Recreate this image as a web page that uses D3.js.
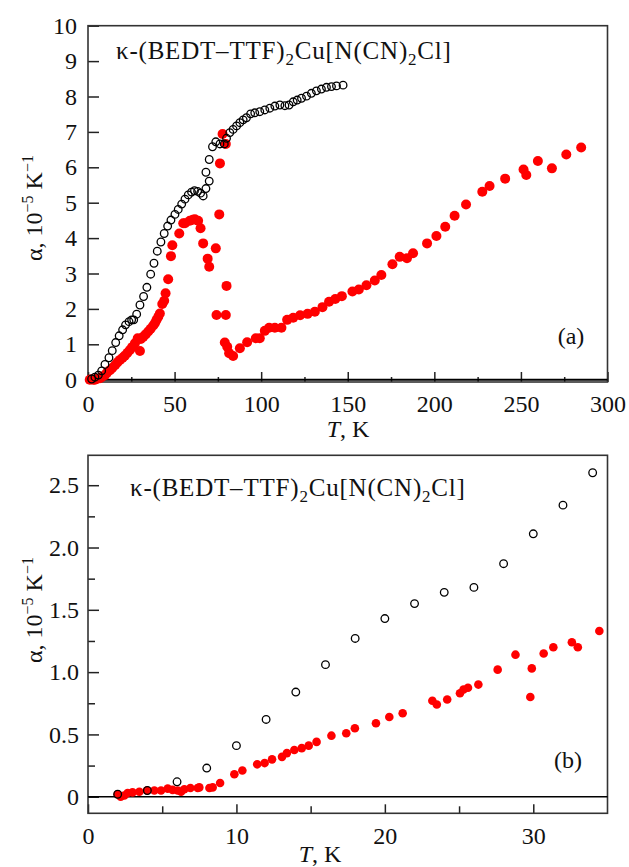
<!DOCTYPE html>
<html>
<head>
<meta charset="utf-8">
<script src="https://cdn.jsdelivr.net/npm/d3@7"></script>
<style>
  body { margin: 0; background: #fff; }
  text { font-family: "Liberation Serif", "Times New Roman", serif; fill: #111; }
</style>
</head>
<body>
<svg id="chart" width="629" height="867"></svg>
<script>
// panel (a): T in K, alpha in 10^-5 K^-1
var openA = [[2.1,0.02],[4,0.07],[6,0.13],[7.9,0.25],[9.8,0.43],[12.1,0.62],[14,0.82],[16,1.05],
  [18,1.24],[20,1.41],[21.7,1.55],[23.7,1.64],[25.2,1.69],[26.4,1.69],[28.1,1.85],[30,2.11],
  [32.1,2.35],[34,2.61],[36.2,2.98],[38.1,3.29],[40,3.63],[42.1,3.89],[44,4.13],[46,4.34],
  [47.9,4.51],[50.2,4.67],[52.1,4.81],[54.1,4.96],[56,5.10],[57.9,5.22],[59.8,5.30],[61.5,5.34],
  [63.3,5.32],[65,5.27],[66.5,5.19],[68.1,5.40],[70,5.61],[68.1,5.86],[70,6.22],[71.9,6.58],
  [73.8,6.72],[76.2,6.66],[78.7,6.66],[80,6.82],[81.9,6.98],[83.8,7.07],[85.8,7.17],[87.7,7.26],
  [89.6,7.34],[91.5,7.40],[93.9,7.51],[96.3,7.54],[99.2,7.57],[102.1,7.62],[105,7.67],[107.9,7.73],
  [110.8,7.76],[113.7,7.74],[116.1,7.76],[118.5,7.85],[120.8,7.90],[123.3,7.95],[126.2,8.01],
  [129,8.09],[131.9,8.16],[134.8,8.21],[137.7,8.26],[140.6,8.28],[143.5,8.30],[147.3,8.32]];

var filledA = [[1,0.0],[2,0.01],[3,0.0],[4,0.0],[5,0.02],[6.9,0.04],[8,0.08],[9.8,0.13],[11,0.2],
  [12.7,0.27],[14,0.33],[15.6,0.41],[17,0.49],[18.5,0.56],[20,0.62],[21.3,0.68],[22.8,0.76],
  [24.2,0.84],[25.5,0.92],[27.1,1.03],[28.7,1.17],[30,0.81],[30.5,1.15],[31.9,1.21],[33.3,1.28],
  [34.8,1.36],[36.2,1.44],[37.7,1.53],[38.7,1.6],[39.6,1.69],[40.6,1.78],[41.5,1.87],[42.9,2.14],
  [44,2.23],[44.8,2.44],[46.3,2.84],[47.9,3.49],[48.7,3.80],[52.7,4.13],[55,4.42],[56,4.42],
  [58.8,4.49],[60.5,4.52],[61.7,4.53],[63.6,4.49],[65,4.28],[66.5,3.85],[69.1,3.42],[70,3.19],
  [73.8,3.71],[75.8,4.67],[76.2,6.11],[77.7,6.94],[79.6,6.66],[80,2.65],[74.2,1.83],[79.6,1.83],
  [79,1.05],[80.4,0.93],[81.5,0.75],[83.8,0.67],[87.7,0.89],[91.9,1.06],[96.9,1.17],[99.2,1.17],
  [102.1,1.38],[104.6,1.47],[107.9,1.47],[111.7,1.47],[115,1.69],[118.5,1.75],[122.5,1.82],
  [126.8,1.86],[131,1.92],[135.4,2.05],[139.2,2.20],[142.8,2.28],[146.6,2.36],[152.7,2.49],
  [156.4,2.55],[160.8,2.67],[165.6,2.80],[169.4,2.96],[175.8,3.26],[180,3.47],[184.2,3.43],
  [187.7,3.57],[195.8,3.85],[201.2,4.06],[206.3,4.32],[211.7,4.63],[218.3,4.95],[227.7,5.31],
  [231.9,5.47],[240.9,5.68],[251.5,5.94],[253.1,5.78],[259.8,6.18],[267.9,5.97],[276.2,6.36],
  [284.8,6.56]];

// panel (b): low temperature part
var openB = [[2,0.02],[4,0.05],[6,0.12],[8,0.23],[10,0.41],[12,0.62],[14,0.84],[16,1.06],[18,1.27],
  [20,1.43],[22,1.55],[24,1.64],[26,1.68],[28,1.87],[30,2.11],[32,2.34],[34,2.60]];

var filledB = [[2,0.02],[2.2,0.0],[2.45,0.01],[2.67,0.03],[3.0,0.035],[3.46,0.04],[3.97,0.05],
  [4.47,0.05],[4.92,0.05],[5.37,0.065],[5.7,0.055],[6.04,0.05],[6.27,0.04],[6.49,0.06],[6.9,0.07],
  [7.39,0.07],[7.5,0.075],[8.18,0.07],[8.4,0.075],[8.9,0.11],[9.86,0.18],[10.4,0.21],[11.4,0.26],
  [11.9,0.27],[12.4,0.30],[13.07,0.32],[13.4,0.35],[13.9,0.375],[14.4,0.39],[14.87,0.41],
  [15.4,0.44],[16.4,0.49],[17.4,0.51],[17.98,0.55],[19.4,0.59],[20.3,0.64],[21.2,0.67],[23.2,0.77],
  [23.5,0.74],[24.2,0.78],[25.06,0.83],[25.3,0.86],[25.6,0.875],[26.3,0.90],[27.6,1.02],
  [28.8,1.14],[29.9,1.03],[29.8,0.80],[30.7,1.15],[31.35,1.20],[32.6,1.24],[33,1.20],[34.45,1.33]];

var ticksAx = [0,50,100,150,200,250,300];
var ticksAy = [0,1,2,3,4,5,6,7,8,9,10];
var ticksBx = [0,10,20,30];
var ticksBy = [0,0.5,1.0,1.5,2.0,2.5];

var svg = d3.select("#chart");
var left = 88, right = 607.5;

function drawPanel(opts) {
  var x = d3.scaleLinear().domain(opts.xDomain).range([left, right]);
  var y = d3.scaleLinear().domain(opts.yDomain).range([opts.bottom, opts.top]);
  var g = svg.append("g");

  // minor ticks
  g.append("g")
    .attr("transform", "translate(0," + opts.bottom + ")")
    .call(d3.axisBottom(x).tickValues(opts.xMinor).tickSizeInner(-opts.xMinorLen).tickSizeOuter(0).tickFormat(""));
  if (opts.yMinor) {
    g.append("g")
      .attr("transform", "translate(" + left + ",0)")
      .call(d3.axisLeft(y).tickValues(opts.yMinor).tickSizeInner(-7).tickSizeOuter(0).tickFormat(""));
  }
  // major ticks + labels
  g.append("g")
    .attr("transform", "translate(0," + opts.bottom + ")")
    .call(d3.axisBottom(x).tickValues(opts.xTicks).tickSizeInner(-opts.xMajorLen).tickSizeOuter(0)
      .tickPadding(opts.xPad).tickFormat(d3.format("d")));
  g.append("g")
    .attr("transform", "translate(" + left + ",0)")
    .call(d3.axisLeft(y).tickValues(opts.yTicks).tickSizeInner(-11).tickSizeOuter(0)
      .tickPadding(opts.yPad).tickFormat(opts.yFormat));

  g.selectAll(".domain").remove();
  g.selectAll(".tick line").attr("stroke", "#222").attr("stroke-width", 1.5);
  g.selectAll(".tick text").style("font-size", "24px").attr("fill", "#111");

  // frame
  g.append("rect")
    .attr("x", left).attr("y", opts.top)
    .attr("width", right - left).attr("height", opts.bottom - opts.top)
    .attr("fill", "none").attr("stroke", "#333").attr("stroke-width", 1.6);

  // zero line
  g.append("line")
    .attr("x1", left).attr("x2", right)
    .attr("y1", y(0)).attr("y2", y(0))
    .attr("stroke", "#000").attr("stroke-width", opts.zeroWidth);

  // data
  g.append("g").selectAll("circle")
    .data(opts.filled)
    .join("circle")
    .attr("cx", function(d) { return x(d[0]); })
    .attr("cy", function(d) { return y(d[1]); })
    .attr("r", opts.filledR)
    .attr("fill", "#ff0000");

  g.append("g").selectAll("circle")
    .data(opts.open)
    .join("circle")
    .attr("cx", function(d) { return x(d[0]); })
    .attr("cy", function(d) { return y(d[1]); })
    .attr("r", opts.openR)
    .attr("fill", "none")
    .attr("stroke", "#000")
    .attr("stroke-width", 1.3);

  // compound title
  var t = g.append("text")
    .attr("x", opts.titleX).attr("y", opts.titleY)
    .style("font-size", "25px")
    .style("letter-spacing", "0.8px");
  t.append("tspan").text("κ-(BEDT–TTF)");
  t.append("tspan").attr("dy", 6).style("font-size", "17px").text("2");
  t.append("tspan").attr("dy", -6).text("Cu[N(CN)");
  t.append("tspan").attr("dy", 6).style("font-size", "17px").text("2");
  t.append("tspan").attr("dy", -6).text("Cl]");

  g.append("text")
    .attr("x", opts.tagX).attr("y", opts.tagY)
    .attr("text-anchor", "middle")
    .style("font-size", "24px")
    .text(opts.tag);

  // axis labels
  var xl = g.append("text")
    .attr("x", opts.xLabelX).attr("y", opts.xLabelY)
    .attr("text-anchor", "middle")
    .style("font-size", "24px");
  xl.append("tspan").style("font-style", "italic").text("T");
  xl.append("tspan").text(", K");

  var yl = g.append("text")
    .attr("transform", "translate(42," + opts.yLabelY + ") rotate(-90)")
    .attr("text-anchor", "middle")
    .style("font-size", "24px");
  yl.append("tspan").text("α, 10");
  yl.append("tspan").attr("dy", -9).style("font-size", "16px").text("−5");
  yl.append("tspan").attr("dy", 9).text(" K");
  yl.append("tspan").attr("dy", -9).style("font-size", "16px").text("−1");
}

drawPanel({
  xDomain: [0, 300], yDomain: [-0.065, 10], top: 25.7, bottom: 382,
  xTicks: ticksAx, xMinor: d3.range(25, 300, 50), xMajorLen: 10, xMinorLen: 5, xPad: 13,
  yTicks: ticksAy, yMinor: null, yPad: 11, yFormat: d3.format("d"),
  open: openA, filled: filledA, openR: 3.8, filledR: 5, zeroWidth: 2,
  titleX: 116, titleY: 59, tag: "(a)", tagX: 571, tagY: 344,
  xLabelX: 348, xLabelY: 437, yLabelY: 208
});

drawPanel({
  xDomain: [0, 35], yDomain: [-0.133, 2.74], top: 455.3, bottom: 813.3,
  xTicks: ticksBx, xMinor: [5, 15, 25], xMajorLen: 9, xMinorLen: 7, xPad: 14,
  yTicks: ticksBy, yMinor: [0.25, 0.75, 1.25, 1.75, 2.25], yPad: 9,
  yFormat: function(d) { return d === 0 ? "0" : d3.format(".1f")(d); },
  open: openB, filled: filledB, openR: 3.8, filledR: 4.3, zeroWidth: 1.6,
  titleX: 130, titleY: 496, tag: "(b)", tagX: 568, tagY: 768,
  xLabelX: 320, xLabelY: 862, yLabelY: 610
});
</script>
</body>
</html>
